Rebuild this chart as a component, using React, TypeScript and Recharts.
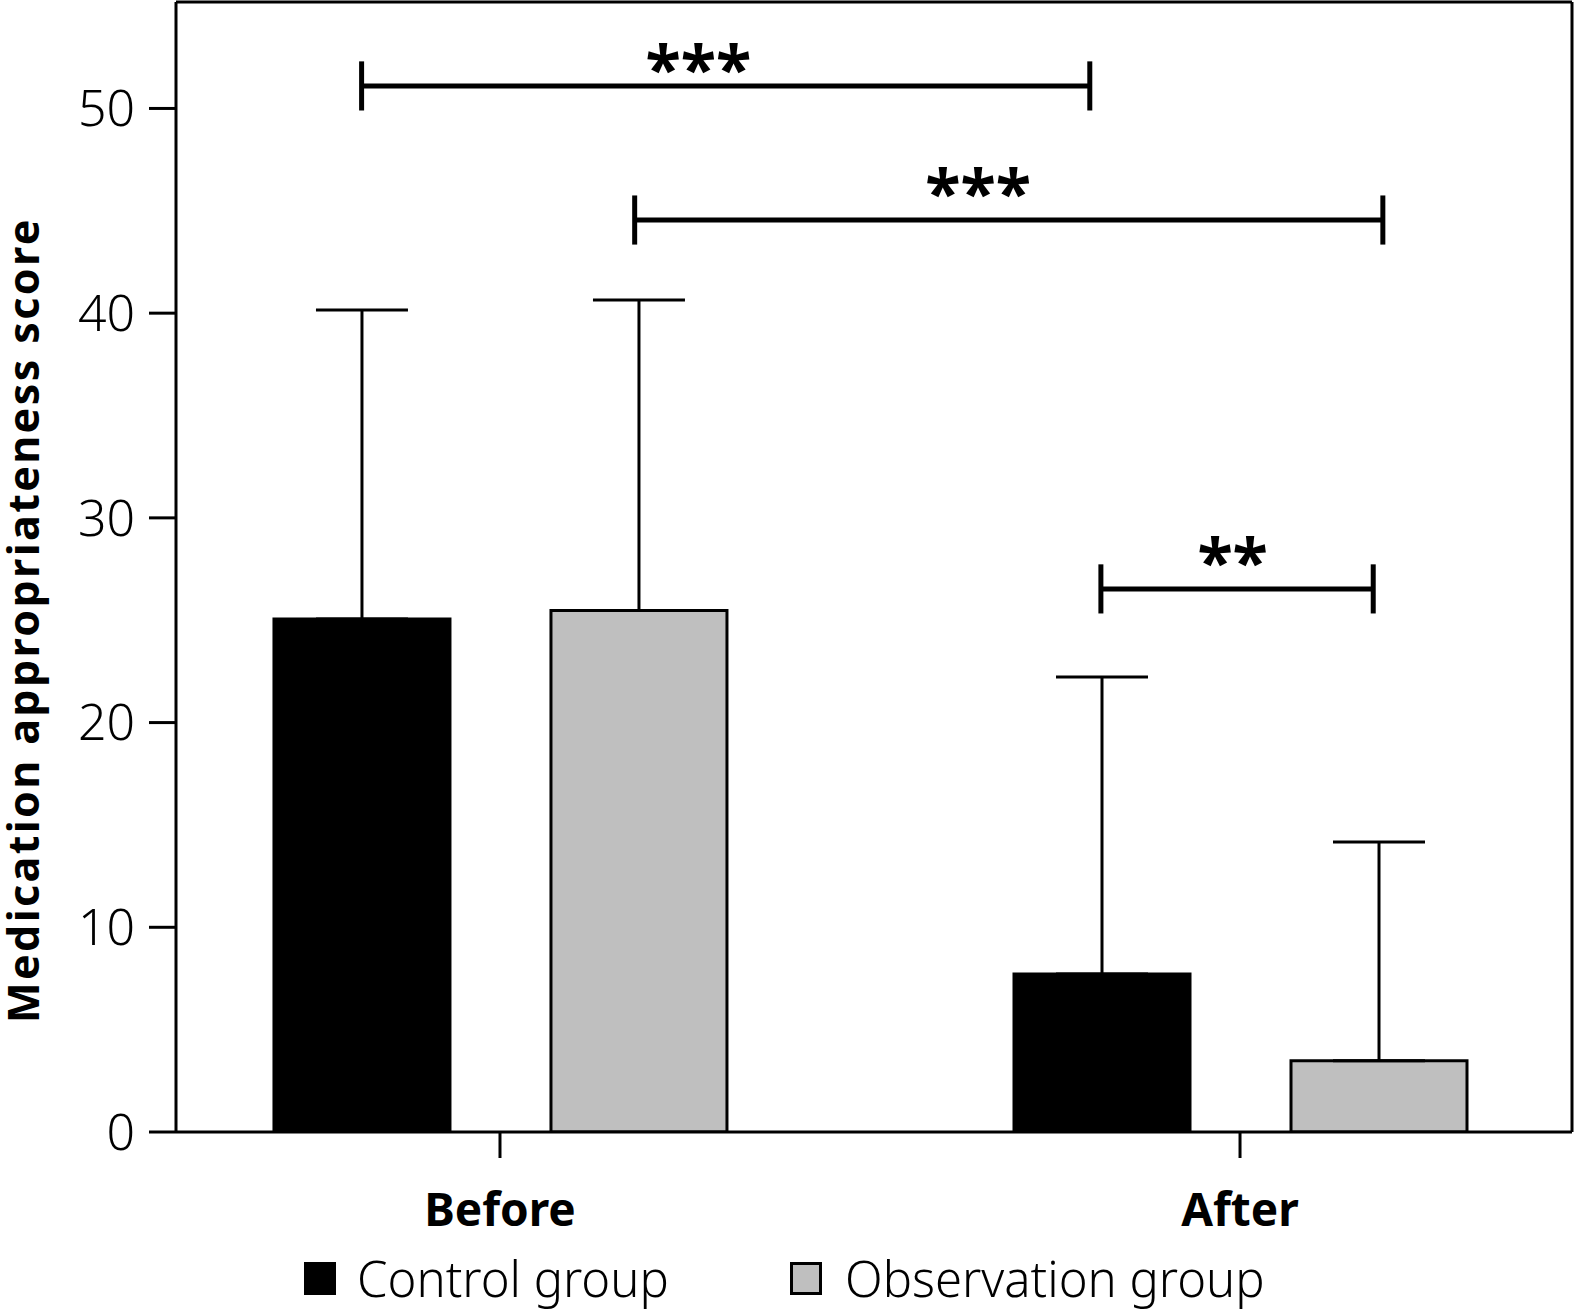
import React from "react";
import {
  BarChart,
  Bar,
  XAxis,
  YAxis,
  ErrorBar,
  ReferenceLine,
  ReferenceDot,
  Customized,
} from "recharts";

const phases = ["Before", "After"];
const controlMeans = [25.06, 7.72];
const observationMeans = [25.47, 3.48];
const controlSD = [15.1, 14.51];
const observationSD = [15.17, 10.69];
const yTicks = [0, 10, 20, 30, 40, 50];

// significance brackets, x in phase units (0 = Before, 1 = After)
const brackets = [
  { from: -0.187, to: 0.797, y: 51.1, label: "***", labelX: 0.268, labelY: 50.6 },
  { from: 0.182, to: 1.193, y: 44.55, label: "***", labelX: 0.646, labelY: 44.55 },
  { from: 0.812, to: 1.18, y: 26.53, label: "**", labelX: 0.99, labelY: 26.53 },
];

const X_DOMAIN: [number, number] = [-0.4378, 1.4486];
const Y_MAX = 55.2;
const FONT = '"Noto Sans", sans-serif';

const data = phases.map((phase, i) => ({
  x: i,
  phase,
  control: controlMeans[i],
  observation: observationMeans[i],
  controlErr: [0, controlSD[i]],
  observationErr: [0, observationSD[i]],
}));

// titre de l'axe Y
const YTitle = () => (
  <text
    transform="translate(39,620) rotate(-90)"
    textAnchor="middle"
    fontFamily={FONT}
    fontWeight={700}
    fontSize={43}
    letterSpacing={2.4}
    fill="#000"
  >
    Medication appropriateness score
  </text>
);

const legendItems = [
  { name: "Control group", fill: "#000", left: 304, textLeft: 357 },
  { name: "Observation group", fill: "#bfbfbf", left: 790, textLeft: 845 },
];

const App: React.FC = () => {
  return (
    <div
      style={{
        position: "absolute",
        left: 0,
        top: 0,
        width: 1575,
        height: 1311,
        background: "#fff",
      }}
    >
      <BarChart
        width={1575}
        height={1311}
        data={data}
        margin={{ top: 2, right: 3, left: 46, bottom: 0 }}
        barSize={176}
        barGap={101}
      >
        <XAxis
          type="number"
          dataKey="x"
          domain={X_DOMAIN}
          ticks={[0, 1]}
          allowDataOverflow
          tickFormatter={(v) => phases[v] ?? ""}
          height={179}
          axisLine={{ stroke: "#000", strokeWidth: 3 }}
          tickLine={{ stroke: "#000", strokeWidth: 3 }}
          tickSize={26}
          tickMargin={35}
          tick={{ fill: "#000", fontSize: 46, fontWeight: 700, fontFamily: FONT }}
        />
        <YAxis
          type="number"
          domain={[0, Y_MAX]}
          ticks={yTicks}
          allowDataOverflow
          width={130}
          axisLine={{ stroke: "#000", strokeWidth: 3 }}
          tickLine={{ stroke: "#000", strokeWidth: 3 }}
          tickSize={27}
          tickMargin={14}
          tick={{ fill: "#000", fontSize: 50, fontWeight: 300, fontFamily: FONT }}
        />
        <ReferenceLine y={Y_MAX} stroke="#000" strokeWidth={3} ifOverflow="visible" />
        <ReferenceLine x={X_DOMAIN[1]} stroke="#000" strokeWidth={3} ifOverflow="visible" />
        <Bar
          dataKey="control"
          name="Control group"
          fill="#000"
          stroke="#000"
          strokeWidth={3}
          isAnimationActive={false}
        >
          <ErrorBar dataKey="controlErr" direction="y" width={46} stroke="#000" strokeWidth={3} />
        </Bar>
        <Bar
          dataKey="observation"
          name="Observation group"
          fill="#bfbfbf"
          stroke="#000"
          strokeWidth={3}
          isAnimationActive={false}
        >
          <ErrorBar dataKey="observationErr" direction="y" width={46} stroke="#000" strokeWidth={3} />
        </Bar>
        {brackets.map((b, i) => (
          <ReferenceLine
            key={"h" + i}
            segment={[
              { x: b.from, y: b.y },
              { x: b.to, y: b.y },
            ]}
            stroke="#000"
            strokeWidth={5}
            ifOverflow="visible"
          />
        ))}
        {brackets.flatMap((b, i) =>
          [b.from, b.to].map((xe, j) => (
            <ReferenceLine
              key={"v" + i + j}
              segment={[
                { x: xe, y: b.y - 1.2 },
                { x: xe, y: b.y + 1.2 },
              ]}
              stroke="#000"
              strokeWidth={5}
              ifOverflow="visible"
            />
          ))
        )}
        {brackets.map((b, i) => (
          <ReferenceDot
            key={"s" + i}
            x={b.labelX}
            y={b.labelY}
            r={0}
            fill="none"
            stroke="none"
            ifOverflow="visible"
            label={{
              value: b.label,
              position: "top",
              offset: 4,
              fill: "#000",
              fontSize: 65,
              fontWeight: 700,
              fontFamily: FONT,
            }}
          />
        ))}
        <Customized component={YTitle} />
      </BarChart>
      {legendItems.map((item) => (
        <React.Fragment key={item.name}>
          <div
            style={{
              position: "absolute",
              left: item.left,
              top: 1262,
              width: 32,
              height: 33,
              background: item.fill,
              border: "3px solid #000",
              boxSizing: "border-box",
            }}
          />
          <div
            style={{
              position: "absolute",
              left: item.textLeft,
              top: 1254,
              fontFamily: FONT,
              fontWeight: 300,
              fontSize: 49,
              lineHeight: "49px",
              color: "#000",
              whiteSpace: "nowrap",
            }}
          >
            {item.name}
          </div>
        </React.Fragment>
      ))}
    </div>
  );
};

export default App;
